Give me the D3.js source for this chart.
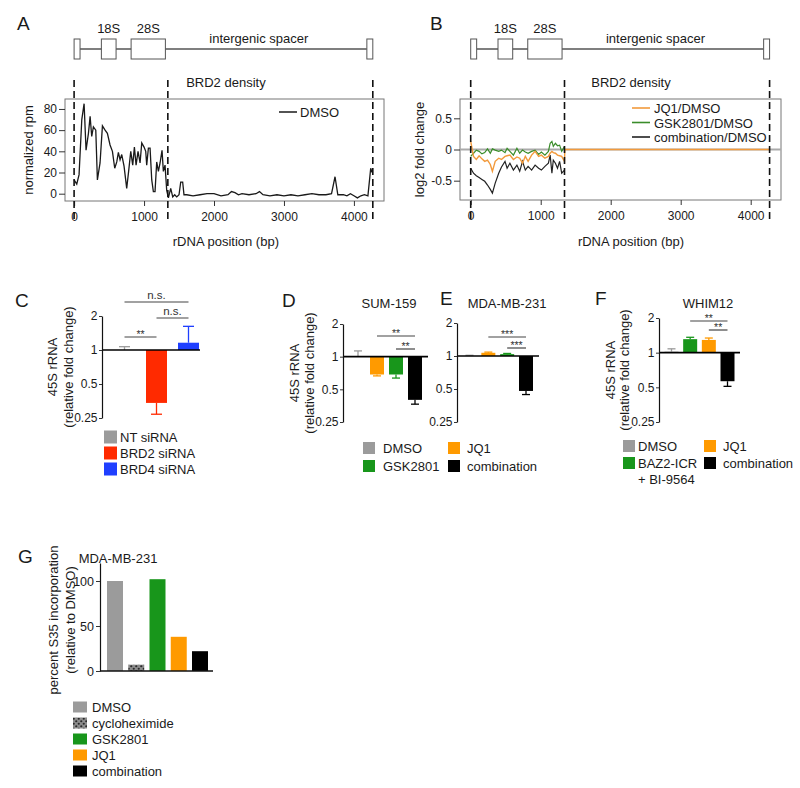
<!DOCTYPE html>
<html><head><meta charset="utf-8">
<script src="https://cdn.jsdelivr.net/npm/d3@7"></script>
<style>body{margin:0;background:#fff}</style>
</head><body>
<svg id="fig" width="800" height="788" xmlns="http://www.w3.org/2000/svg"></svg>
<script>
// ================= DATA =================
// Panel A: BRD2 density (DMSO), rDNA position (bp) vs normalized rpm
const aPos = [0,38,71,110,143,171,205,229,252,276,310,333,371,405,443,476,514,548,581,610,633,657,681,714,752,781,810,838,862,886,914,943,967,1000,1024,1038,1062,1086,1110,1133,1157,1181,1205,1229,1257,1276,1300,1324,1348,1381,1410,1438,1467,1500,1524,1552,1571,1610,1700,1800,1900,2000,2100,2200,2250,2300,2350,2400,2500,2600,2650,2700,2800,2900,3000,3100,3200,3300,3400,3500,3600,3680,3730,3770,3850,3900,3950,4000,4050,4100,4150,4200,4240,4260];
const aDMSO = [13,9,18,70,85,41,57,73,54,63,60,13,29,64,60,57,46,40,24,30,39,32,37,26,5,22,40,27,44,27,40,29,48,44,40,27,43,43,13,2,2,30,21,29,41,21,27,3,-4,5,-3,-1,-3,-1,11,11,-1,-1,-2,-1,0,0,-2,-1,2,1,-1,0,-1,0,2,-1,-2,-1,-2,-1,-2,-1,0,-1,-1,0,16,-1,-1,-2,0,-2,-4,-2,-1,-2,24,20];
const aYTicks = [0,20,40,60,80];
const rdnaTicks = [0,1000,2000,3000,4000];
const regionBounds = [0,1340,4270];
const geneBoxes = [[0,85],[390,600],[815,1305],[4185,4270]];
const geneLabels = ["18S","28S","intergenic spacer"];
const geneLabelPos = [495,1060,2640];

// Panel B: log2 fold change vs DMSO
const bPos = [0,40,80,120,160,200,240,280,310,350,400,440,490,520,560,610,660,700,740,780,820,870,920,970,1010,1060,1110,1135,1160,1180,1210,1240,1270,1300,1340];
const bJQ1 = [0.13,-0.11,-0.16,-0.10,-0.15,-0.19,-0.17,-0.24,-0.35,-0.19,-0.14,-0.16,-0.11,-0.10,-0.09,-0.16,-0.12,-0.14,-0.22,-0.11,-0.19,-0.09,-0.03,-0.11,-0.09,-0.14,-0.11,-0.06,-0.03,-0.05,-0.06,-0.09,-0.10,-0.11,-0.19];
const bGSK = [-0.11,-0.06,-0.01,-0.03,-0.07,-0.05,0.01,-0.06,0.01,-0.01,-0.03,-0.01,-0.05,0.02,-0.03,-0.09,0.02,-0.06,-0.01,-0.04,-0.06,-0.03,-0.01,-0.08,-0.04,-0.09,-0.03,0.10,0.13,0.05,0.10,0.06,0.07,-0.03,0.05];
const bCombo = [-0.30,-0.38,-0.42,-0.45,-0.48,-0.51,-0.57,-0.64,-0.70,-0.54,-0.38,-0.28,-0.19,-0.30,-0.22,-0.33,-0.25,-0.35,-0.19,-0.33,-0.27,-0.33,-0.25,-0.30,-0.33,-0.27,-0.22,-0.09,-0.38,-0.17,-0.22,-0.30,-0.19,-0.38,-0.33];
const bTailPos = [1345,4270];
const bTailJQ1 = [0,0];
const bSeriesNames = ["JQ1/DMSO","GSK2801/DMSO","combination/DMSO"];
const bYTicks = [-0.5,0,0.5];

// Bar panels (45S rRNA relative fold change)
const foldTicks = [0.25,0.5,1,2];
const cCats = ["NT siRNA","BRD2 siRNA","BRD4 siRNA"];
const cVals = [1.0,0.34,1.16];
const cErrs = [1.07,0.27,1.62];
const cSig = [["NT siRNA","BRD2 siRNA","**"],["BRD2 siRNA","BRD4 siRNA","n.s."],["NT siRNA","BRD4 siRNA","n.s."]];

const deCats = ["DMSO","JQ1","GSK2801","combination"];
const dVals = [1.0,0.685,0.685,0.40];
const dErrs = [1.13,0.665,0.635,0.365];
const dSig = [["JQ1","combination","**"],["GSK2801","combination","**"]];
const eVals = [1.0,1.07,1.04,0.48];
const eErrs = [1.015,1.085,1.055,0.445];
const eSig = [["JQ1","combination","***"],["GSK2801","combination","***"]];

const fCats = ["DMSO","BAZ2-ICR + BI-9564","JQ1","combination"];
const fVals = [1.02,1.31,1.29,0.565];
const fErrs = [1.08,1.36,1.34,0.51];
const fSig = [["BAZ2-ICR + BI-9564","combination","**"],["JQ1","combination","**"]];

// Panel G: S35 incorporation
const gCats = ["DMSO","cycloheximide","GSK2801","JQ1","combination"];
const gVals = [100,7,102,38,22];
const gTicks = [0,50,100];

// ================= STYLE / LAYOUT =================
const FONT = 'Arial, "Liberation Sans", sans-serif';
const GRAY="#9b9b9b", RED="#ff2a00", BLUE="#1f3fff", ORANGE="#ff9a00", GREEN="#18961b", BLACK="#000000";
const svg = d3.select("#fig");
svg.append("rect").attr("width",800).attr("height",788).attr("fill","#fff");

const defs = svg.append("defs");
const pat = defs.append("pattern").attr("id","chx").attr("patternUnits","userSpaceOnUse").attr("width",5).attr("height",5);
pat.append("rect").attr("width",5).attr("height",5).attr("fill","#8c8c8c");
pat.append("circle").attr("cx",1.25).attr("cy",1.25).attr("r",1.1).attr("fill","#2a2a2a");
pat.append("circle").attr("cx",3.75).attr("cy",3.75).attr("r",1.1).attr("fill","#2a2a2a");

function text(x,y,s,o={}){
  const t = svg.append("text").attr("x",x).attr("y",y).text(s)
    .attr("font-family",FONT).attr("font-size",o.fs||13).attr("fill",o.fill||"#1a1a1a")
    .attr("text-anchor",o.anchor||"start");
  if(o.rot){ t.attr("transform",`rotate(-90,${x},${y})`).attr("dy","0.35em"); }
  return t;
}
function styleAxis(g,fs){
  g.selectAll("text").attr("font-size",fs).attr("fill","#1a1a1a").attr("font-family",FONT);
  g.selectAll(".tick line").attr("stroke","#333");
  g.select(".domain").attr("stroke","#111").attr("stroke-width",1.2);
}

// ---------- profile panels A & B ----------
function profilePanel(o){
  const x = d3.scaleLinear().domain(o.xDom).range([o.left,o.right]);
  const y = d3.scaleLinear().domain(o.yDom).range([o.bottom,o.top]);
  // gene diagram
  svg.append("line").attr("x1",x(geneBoxes[0][1])).attr("x2",x(geneBoxes[3][0])).attr("y1",49).attr("y2",49)
    .attr("stroke","#555").attr("stroke-width",1.3);
  geneBoxes.forEach(b=>{
    svg.append("rect").attr("x",x(b[0])).attr("y",39).attr("width",x(b[1])-x(b[0])).attr("height",20)
      .attr("fill","#fff").attr("stroke","#555").attr("stroke-width",1);
  });
  text(x(geneLabelPos[0]),33,geneLabels[0],{anchor:"middle"});
  text(x(geneLabelPos[1]),33,geneLabels[1],{anchor:"middle"});
  text(x(geneLabelPos[2]),43,geneLabels[2],{anchor:"middle"});
  text(x(o.titlePos),87,"BRD2 density",{anchor:"middle"});
  // box
  svg.append("rect").attr("x",o.left).attr("y",o.top).attr("width",o.right-o.left).attr("height",o.bottom-o.top)
    .attr("fill","none").attr("stroke","#777").attr("stroke-width",1);
  // axes
  const ga = svg.append("g").attr("transform",`translate(${o.left},0)`)
    .call(d3.axisLeft(y).tickValues(o.yTicks).tickSize(6).tickPadding(2).tickFormat(d=>String(d)));
  ga.select(".domain").remove(); styleAxis(ga,12);
  const gb = svg.append("g").attr("transform",`translate(0,${o.bottom})`)
    .call(d3.axisBottom(x).tickValues(rdnaTicks).tickSize(5).tickPadding(6).tickFormat(d=>String(d)));
  gb.select(".domain").remove(); styleAxis(gb,12);
  text(x(o.titlePos),246,"rDNA position (bp)",{anchor:"middle"});
  text(o.ylabX,(o.top+o.bottom)/2,o.ylab,{anchor:"middle",rot:true});
  o.draw(x,y);
  // dashed region boundaries
  regionBounds.forEach(b=>{
    svg.append("line").attr("x1",x(b)).attr("x2",x(b)).attr("y1",80).attr("y2",222)
      .attr("stroke","#111").attr("stroke-width",1.6).attr("stroke-dasharray","7,4");
  });
}

profilePanel({xDom:[-130,4430],yDom:[-6.9,89.4],left:65,right:384,top:99,bottom:201,yTicks:aYTicks,
  ylab:"normalized rpm",ylabX:28,titlePos:2170,
  draw:(x,y)=>{
    const line = d3.line().x((d,i)=>x(aPos[i])).y(d=>y(d));
    svg.append("path").attr("d",line(aDMSO)).attr("fill","none").attr("stroke","#1a1a1a").attr("stroke-width",1.3);
    svg.append("line").attr("x1",279).attr("x2",297).attr("y1",112).attr("y2",112).attr("stroke","#1a1a1a").attr("stroke-width",1.5);
    text(300,117,"DMSO");
  }});

profilePanel({xDom:[-153,4433],yDom:[-0.81,0.81],left:460,right:781,top:99,bottom:200,yTicks:bYTicks,
  ylab:"log2 fold change",ylabX:419,titlePos:2290,
  draw:(x,y)=>{
    svg.append("line").attr("x1",460).attr("x2",781).attr("y1",y(0)).attr("y2",y(0)).attr("stroke","#aaaaaa").attr("stroke-width",2);
    const line = d3.line().x(d=>x(d[0])).y(d=>y(d[1]));
    const cols = ["#f29a3c","#3a8c2a","#222222"];
    svg.append("path").attr("d",line(d3.zip(bPos,bCombo))).attr("fill","none").attr("stroke",cols[2]).attr("stroke-width",1.2);
    svg.append("path").attr("d",line(d3.zip(bPos,bGSK))).attr("fill","none").attr("stroke",cols[1]).attr("stroke-width",1.2);
    svg.append("path").attr("d",line(d3.zip(bPos.concat(bTailPos),bJQ1.concat(bTailJQ1)))).attr("fill","none").attr("stroke",cols[0]).attr("stroke-width",1.4);
    bSeriesNames.forEach((n,i)=>{
      const yy = 108 + i*14.5;
      svg.append("line").attr("x1",632).attr("x2",650).attr("y1",yy).attr("y2",yy).attr("stroke",cols[i]).attr("stroke-width",1.6);
      text(654,yy+5,n);
    });
  }});

// ---------- fold-change bar panels ----------
function barPanel(o){
  const y = d3.scaleLog().base(2).domain([0.25,2]).range(o.yRange);
  const x = d3.scalePoint().domain(o.cats).range(o.xRange);
  o.cats.forEach((c,i)=>{
    const v=o.vals[i], e=o.errs[i], col=o.colors[i];
    svg.append("rect").attr("x",x(c)-o.bw/2).attr("width",o.bw)
      .attr("y",Math.min(y(v),y(1))).attr("height",Math.abs(y(v)-y(1))).attr("fill",col);
    svg.append("line").attr("x1",x(c)).attr("x2",x(c)).attr("y1",y(v)).attr("y2",y(e)).attr("stroke",col).attr("stroke-width",1.3);
    svg.append("line").attr("x1",x(c)-o.cap/2).attr("x2",x(c)+o.cap/2).attr("y1",y(e)).attr("y2",y(e)).attr("stroke",col).attr("stroke-width",1.3);
  });
  svg.append("line").attr("x1",o.axisX).attr("x2",o.baseEnd).attr("y1",y(1)).attr("y2",y(1)).attr("stroke","#000").attr("stroke-width",1.6);
  const ga = svg.append("g").attr("transform",`translate(${o.axisX},0)`)
    .call(d3.axisLeft(y).tickValues(foldTicks).tickFormat(d=>String(d)).tickSize(3).tickSizeOuter(0).tickPadding(1.5));
  styleAxis(ga,12);
  o.sig.forEach((s,i)=>{
    const ly = o.sigY[i], x1 = x(s[0]), x2 = x(s[1]);
    svg.append("line").attr("x1",x1).attr("x2",x2).attr("y1",ly).attr("y2",ly).attr("stroke","#444").attr("stroke-width",1.2);
    const ns = s[2]==="n.s.";
    text((x1+x2)/2, ns? ly-3 : ly+1, s[2], {anchor:"middle",fs:ns?11.5:10.5,fill:"#333"});
  });
  if(o.title) text(o.titleX,308,o.title,{anchor:"middle"});
  if(o.ylabX){
    const cy = (o.yRange[0]+o.yRange[1])/2;
    text(o.ylabX[0],cy,"45S rRNA",{anchor:"middle",rot:true});
    text(o.ylabX[1],cy,"(relative fold change)",{anchor:"middle",rot:true});
  }
}

barPanel({cats:cCats,vals:cVals,errs:cErrs,colors:[GRAY,RED,BLUE],yRange:[418,316],xRange:[124.5,188.5],
  bw:21,cap:11,axisX:102,baseEnd:200,sig:cSig,sigY:[337,318,302],ylabX:[52,68]});
barPanel({cats:deCats,vals:dVals,errs:dErrs,colors:[GRAY,ORANGE,GREEN,BLACK],yRange:[422,324],xRange:[358,415],
  bw:14,cap:8,axisX:343,baseEnd:428,sig:dSig,sigY:[336,349],title:"SUM-159",titleX:389,ylabX:[294,309]});
barPanel({cats:deCats,vals:eVals,errs:eErrs,colors:[GRAY,ORANGE,GREEN,BLACK],yRange:[422,323],xRange:[469.5,526],
  bw:14,cap:8,axisX:457,baseEnd:539,sig:eSig,sigY:[337,348],title:"MDA-MB-231",titleX:507});
barPanel({cats:fCats,vals:fVals,errs:fErrs,colors:[GRAY,GREEN,ORANGE,BLACK],yRange:[422,318],xRange:[671.5,727.5],
  bw:14,cap:8,axisX:659,baseEnd:740,sig:fSig,sigY:[321,330],title:"WHIM12",titleX:708,ylabX:[610,624]});

// legends for bar panels
function legendItem(x,yc,w,h,fill,label,tx){
  svg.append("rect").attr("x",x).attr("y",yc-h/2).attr("width",w).attr("height",h).attr("fill",fill);
  if(label) text(tx,yc+4.6,label);
}
[GRAY,RED,BLUE].forEach((c,i)=>legendItem(104,437+i*16,13,13,c,cCats[i],120));
legendItem(363,448,12,12,GRAY,deCats[0],383);
legendItem(363,466,12,12,GREEN,deCats[2],383);
legendItem(448,448,12,12,ORANGE,deCats[1],467);
legendItem(448,466,12,12,BLACK,deCats[3],467);
legendItem(623,446,12,12,GRAY,fCats[0],638);
legendItem(623,463,12,12,GREEN,"BAZ2-ICR",638);
text(638,484,"+ BI-9564");
legendItem(704,446,12,12,ORANGE,fCats[2],723);
legendItem(704,463,12,12,BLACK,fCats[3],723);

// ---------- panel G ----------
(function(){
  const y = d3.scaleLinear().domain([0,120]).range([671,563]);
  const x = d3.scalePoint().domain(gCats).range([115,200]);
  const fills = [GRAY,"url(#chx)",GREEN,ORANGE,BLACK];
  gCats.forEach((c,i)=>{
    svg.append("rect").attr("x",x(c)-8).attr("width",16).attr("y",y(gVals[i])).attr("height",y(0)-y(gVals[i])).attr("fill",fills[i]);
  });
  const ga = svg.append("g").attr("transform","translate(100,0)")
    .call(d3.axisLeft(y).tickValues(gTicks).tickSize(4).tickSizeOuter(0).tickPadding(2));
  styleAxis(ga,12.5);
  svg.append("line").attr("x1",100).attr("x2",213).attr("y1",671).attr("y2",671).attr("stroke","#111").attr("stroke-width",1.4);
  text(118,563,"MDA-MB-231",{anchor:"middle"});
  text(53,620,"percent S35 incorporation",{anchor:"middle",rot:true});
  text(70,620,"(relative to DMSO)",{anchor:"middle",rot:true});
  gCats.forEach((c,i)=>legendItem(73,707+i*16,14,11,fills[i],c,92));
})();

// ---------- panel letters ----------
[["A",17,30],["B",430,30],["C",15,307],["D",282,307],["E",440,305],["F",595,305],["G",18,563]]
  .forEach(l=>text(l[1],l[2],l[0],{fs:19}));
</script>
</body></html>
